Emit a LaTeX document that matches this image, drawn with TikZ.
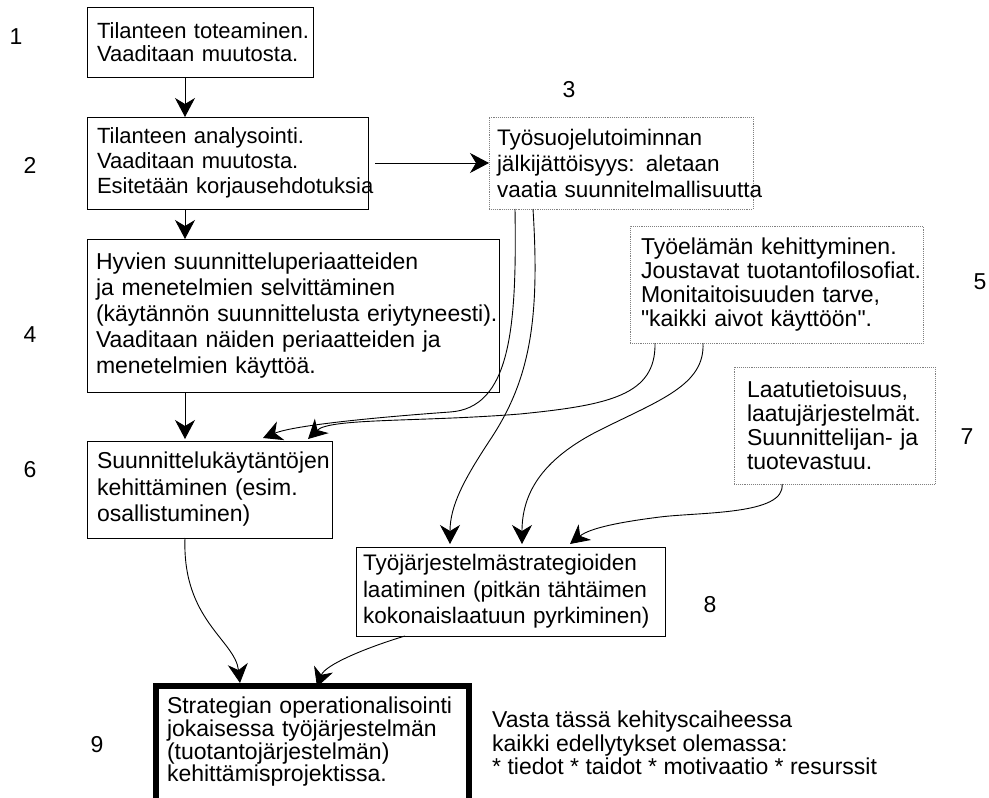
\documentclass[tikz,border=0pt]{standalone}
\usepackage{fontspec}
\setmainfont{Liberation Sans}[Ligatures=TeXOff]
\usetikzlibrary{arrows.meta,calc}
\tikzset{bs/.style 2 args={font=\fontsize{#1}{#2}\selectfont}}
\begin{document}
\begin{tikzpicture}[x=1pt,y=-1pt,
  box/.style={draw=black, line width=1pt, anchor=north west, align=left, inner ysep=0pt, inner xsep=10pt, outer sep=0pt},
  dbox/.style={box, draw=black!50, line width=0.9pt, densely dotted},
  boldbox/.style={box, line width=6pt, inner xsep=11pt, inner ysep=11pt},
  num/.style={font=\fontsize{23}{26}\selectfont, inner sep=0pt},
  plain/.style={anchor=north west, align=left, inner sep=0pt, font=\fontsize{23}{23.5}\selectfont},
  arr/.style={-{Stealth[length=19pt,width=20pt,inset=6pt]}, line width=0.9pt},
]
\useasboundingbox (0,0) rectangle (989,798);
\clip (0,0) rectangle (989,798);

% boxes
\node[box, bs={22}{23}, minimum width=226pt, minimum height=70pt, text width=206pt] (b1) at (87,7)
  {\mbox{Tilanteen toteaminen.}\\\mbox{Vaaditaan muutosta.}};
\node[box, bs={22}{25}, minimum width=281pt, minimum height=92pt, text width=261pt] (b2) at (87,117)
  {\mbox{Tilanteen analysointi.}\\\mbox{Vaaditaan muutosta.}\\\mbox{Esitetään korjausehdotuksia}};
\node[dbox, bs={22.5}{26}, inner xsep=8pt, minimum width=264pt, minimum height=92pt, text width=248pt] (b3) at (489,117)
  {\mbox{Työsuojelutoiminnan}\\\mbox{jälkijättöisyys: aletaan}\\\mbox{vaatia suunnitelmallisuutta}};
\node[box, bs={23}{26}, inner xsep=9pt, minimum width=412pt, minimum height=153pt, text width=394pt] (b4) at (87,239)
  {\mbox{Hyvien suunnitteluperiaatteiden}\\\mbox{ja menetelmien selvittäminen}\\\mbox{(käytännön suunnittelusta eriytyneesti).}\\\mbox{Vaaditaan näiden periaatteiden ja}\\\mbox{menetelmien käyttöä.}};
\node[dbox, bs={23}{24}, inner xsep=11pt, minimum width=293pt, minimum height=117pt, text width=271pt] (b5) at (630,226)
  {\mbox{Työelämän kehittyminen.}\\\mbox{Joustavat tuotantofilosofiat.}\\\mbox{Monitaitoisuuden tarve,}\\\mbox{"kaikki aivot käyttöön".}};
\node[box, bs={23}{26.5}, minimum width=245pt, minimum height=97pt, text width=225pt] (b6) at (87,441)
  {\mbox{Suunnittelukäytäntöjen}\\\mbox{kehittäminen (esim.}\\\mbox{osallistuminen)}};
\node[dbox, bs={23}{24}, inner xsep=13pt, minimum width=201pt, minimum height=117pt, text width=175pt] (b7) at (734,367)
  {\mbox{Laatutietoisuus,}\\\mbox{laatujärjestelmät.}\\\mbox{Suunnittelijan- ja}\\\mbox{tuotevastuu.}};
\node[box, bs={22.5}{26.5}, inner xsep=7pt, minimum width=309pt, minimum height=89pt, text width=295pt] (b8) at (356,547)
  {\mbox{Työjärjestelmästrategioiden}\\\mbox{laatiminen (pitkän tähtäimen}\\\mbox{kokonaislaatuun pyrkiminen)}};

% numbers
\node[num] (n1) at (16,37) {1};
\node[num] (n2) at (30,165) {2};
\node[num] (n3) at (569,90) {3};
\node[num] (n4) at (30,335) {4};
\node[num] (n5) at (980,282) {5};
\node[num] (n6) at (30,470) {6};
\node[num] (n7) at (967,437) {7};
\node[num] (n8) at (710,605) {8};
\node[num] (n9) at (97,745) {9};

% side text
\node[plain] (s9) at (492,711)
  {Vasta tässä kehityscaiheessa\\kaikki edellytykset olemassa:\\* tiedot * taidot * motivaatio * resurssit};

% straight connectors
\draw[arr] ($(b1.south west)+(98,0)$) -- ($(b2.north west)+(98,0)$);
\draw[arr] ($(b2.east)+(7,0)$) -- (b3.west);
\draw[arr] ($(b2.south west)+(98,0)$) -- ($(b4.north west)+(98,0)$);
\draw[arr] ($(b4.south west)+(98,0)$) -- ($(b6.north west)+(98,-2)$);

% curved connectors
\draw[arr] ($(b3.south west)+(26,0)$) .. controls (517,330) and (510,408) .. (450,412)
  .. controls (380,417) and (295,425) .. ($(b6.north west)+(176,-3)$);
\draw[arr] ($(b5.south west)+(25,0)$) .. controls (656,395) and (610,405) .. (520,414)
  .. controls (420,422) and (330,418) .. ($(b6.north west)+(221,-2)$);
\draw[arr] ($(b3.south west)+(44,0)$) .. controls (540,320) and (530,380) .. (490,440)
  .. controls (465,478) and (450,505) .. ($(b8.north west)+(94,-3)$);
\draw[arr] ($(b5.south west)+(73,0)$) .. controls (705,385) and (660,400) .. (600,430)
  .. controls (540,460) and (522,495) .. ($(b8.north west)+(166,-3)$);
\draw[arr] ($(b7.south west)+(48,0)$) .. controls (786,515) and (700,512) .. (660,517)
  .. controls (620,522) and (590,528) .. ($(b8.north west)+(214,-3)$);

% bottom box
\node[boldbox, font=\fontsize{23}{22.7}\selectfont, text width=291pt] (b9) at (156,686)
  {\mbox{Strategian operationalisointi}\\\mbox{jokaisessa työjärjestelmän}\\\mbox{(tuotantojärjestelmän)}\\\mbox{kehittämisprojektissa.}\\\mbox{}\\\mbox{}};

\draw[arr] ($(b6.south west)+(98,0)$) .. controls (182,620) and (235,640) .. ($(b9.north west)+(84,-3)$);
\draw[arr] ($(b8.south west)+(49,0)$) .. controls (365,648) and (325,665) .. ($(b9.north west)+(161,1)$);
\end{tikzpicture}
\end{document}
